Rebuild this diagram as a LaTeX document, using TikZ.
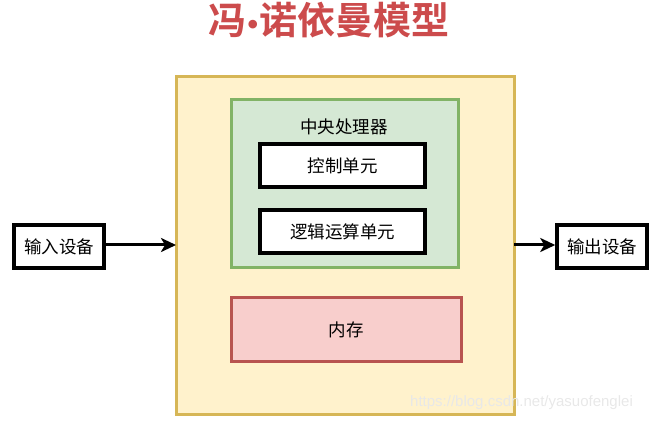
\documentclass[tikz,border=0pt]{standalone}
\usepackage{fontspec}
\setmainfont{Noto Sans CJK SC}
\newfontfamily\titlefont{Noto Sans CJK SC Bold}
\newfontfamily\dotfont{Liberation Sans Bold}
\setsansfont{Liberation Sans}
\usetikzlibrary{arrows.meta}
\definecolor{yfill}{HTML}{FFF2CC}
\definecolor{ydraw}{HTML}{D6B656}
\definecolor{gfill}{HTML}{D5E8D4}
\definecolor{gdraw}{HTML}{82B366}
\definecolor{rfill}{HTML}{F8CECC}
\definecolor{rdraw}{HTML}{B85450}
\definecolor{titlered}{HTML}{CC4B4C}
\tikzset{
  lbl/.style={font=\fontsize{17.5}{20}\selectfont, inner sep=0pt},
  unitbox/.style={draw=black, fill=white, line width=3.5pt},
  conn/.style={line width=3pt, -{Stealth[length=15pt,width=14pt,inset=4pt]}},
}
\begin{document}
\begin{tikzpicture}[x=1pt,y=-1pt]
\useasboundingbox (0,0) rectangle (654,422);
\node[font=\titlefont\fontsize{38}{41}\selectfont, text=titlered, inner sep=0pt] (title) at (329,20) {冯\hspace{1.5pt}{\dotfont\fontsize{30}{30}\selectfont •}\hspace{1.5pt}诺依曼模型};
% outer computer box
\draw[fill=yfill, draw=ydraw, line width=3pt] (176,77) rectangle (514,414);
\coordinate (outerL) at (176,245);
\coordinate (outerR) at (514,245);
% CPU
\draw[fill=gfill, draw=gdraw, line width=3pt] (231,100) rectangle (458,268);
\node[lbl] (cpu) at (344,127) {中央处理器};
\draw[unitbox] (260,144) rectangle (425,187);
\node[lbl] (cu) at (342.5,166) {控制单元};
\draw[unitbox] (260,210) rectangle (425,253);
\node[lbl] (alu) at (342.5,232) {逻辑运算单元};
% memory
\draw[fill=rfill, draw=rdraw, line width=3pt] (231,298) rectangle (461,362);
\node[lbl] (mem) at (346,330) {内存};
% input/output
\node[unitbox, lbl, minimum width=90pt, minimum height=43pt] (in) at (59,246.5) {输入设备};
\node[unitbox, lbl, minimum width=90pt, minimum height=43pt] (out) at (602,246.5) {输出设备};
\draw[conn] (in.east |- outerL) -- (outerL);
\draw[conn] (outerR) -- (out.west |- outerR);
% watermark
\node[font=\sffamily\fontsize{15}{17}\selectfont, text=black!9, inner sep=0pt, anchor=west] (wm) at (410,403) {https://blog.csdn.net/yasuofenglei};
\end{tikzpicture}
\end{document}
